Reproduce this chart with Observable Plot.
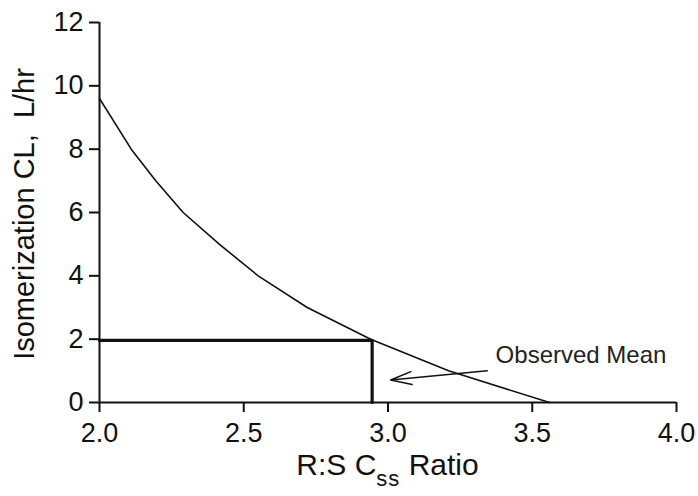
<!DOCTYPE html>
<html>
<head>
<meta charset="utf-8">
<script src="https://cdn.jsdelivr.net/npm/d3@7"></script>
<script src="https://cdn.jsdelivr.net/npm/@observablehq/plot@0.6"></script>
<style>
  html, body { margin: 0; padding: 0; background: #fff; }
  #chart { width: 698px; height: 496px; }
</style>
</head>
<body>
<div id="chart"></div>
<script>
// Curve: isomerization clearance vs R:S Css ratio
const curveRatio = [2.0, 2.11, 2.195, 2.29, 2.415, 2.55, 2.72, 2.94, 3.21, 3.56];
const curveCL    = [9.6, 8.0, 7.0, 6.0, 5.0, 4.0, 3.0, 2.0, 1.0, 0.0];

// Observed mean guide lines
const meanRatio = [2.0, 2.945, 2.945];
const meanCL    = [1.96, 1.96, 0.0];

// Annotation
const noteText  = ["Observed Mean"];
const noteX     = [3.373];
const noteY     = [1.25];
const arrowFromX = [3.344];
const arrowFromY = [1.0];
const arrowToX   = [3.009];
const arrowToY   = [0.71];

// Ticks
const xTicks = [2.0, 2.5, 3.0, 3.5, 4.0];
const yTicks = [0, 2, 4, 6, 8, 10, 12];

const xLabelMain = "R:S C";
const xLabelSub  = "ss";
const xLabelTail = " Ratio";
const yLabel     = "Isomerization CL,\u00a0 L/hr";

const FONT = "'Liberation Sans', Arial, Helvetica, sans-serif";
const INK = "#111";

const curve = curveRatio.map((x, i) => ({x, y: curveCL[i]}));
const mean  = meanRatio.map((x, i) => ({x, y: meanCL[i]}));

const plot = Plot.plot({
  width: 698,
  height: 496,
  marginLeft: 99,
  marginRight: 22,
  marginTop: 22,
  marginBottom: 94,
  style: { fontFamily: FONT, color: INK, background: "#fff", overflow: "visible" },
  x: { domain: [2, 4] },
  y: { domain: [0, 12] },
  marks: [
    Plot.axisX({ ticks: xTicks, tickFormat: d3.format(".1f"), tickSize: 10, tickPadding: 10,
                 fontSize: 27, strokeWidth: 2, label: null }),
    Plot.axisY({ ticks: yTicks, tickFormat: d3.format("d"), tickSize: 10, tickPadding: 6,
                 fontSize: 27, strokeWidth: 2, label: null }),
    Plot.ruleY([0], { stroke: INK, strokeWidth: 2 }),
    Plot.ruleX([2], { stroke: INK, strokeWidth: 2 }),
    Plot.line(curve, { x: "x", y: "y", stroke: INK, strokeWidth: 1.6 }),
    Plot.line(mean, { x: "x", y: "y", stroke: INK, strokeWidth: 3.2 }),
    Plot.arrow([0], { x1: arrowFromX, y1: arrowFromY, x2: arrowToX, y2: arrowToY,
                      stroke: INK, strokeWidth: 1.5, headLength: 22, headAngle: 34 }),
    Plot.text(noteText, { x: noteX, y: noteY, text: d => d, textAnchor: "start",
                          lineAnchor: "bottom", fontSize: 24, fill: "#222" })
  ]
});

document.getElementById("chart").appendChild(plot);

// Axis titles (x label has a subscript)
const sx = plot.scale("x"), sy = plot.scale("y");
const svg = d3.select(plot);

const xt = svg.append("text")
  .attr("x", sx.apply(3.0))
  .attr("y", 475)
  .attr("text-anchor", "middle")
  .attr("font-family", FONT)
  .attr("font-size", 30)
  .attr("fill", INK);
xt.append("tspan").text(xLabelMain);
xt.append("tspan").attr("font-size", 22).attr("dy", "0.5em").attr("letter-spacing", 1).text(xLabelSub);
xt.append("tspan").attr("dy", "-0.37em").text(xLabelTail);

svg.append("text")
  .attr("transform", `translate(34,${(sy.apply(0) + sy.apply(12)) / 2 + 2}) rotate(-90)`)
  .attr("text-anchor", "middle")
  .attr("font-family", FONT)
  .attr("font-size", 29)
  .attr("fill", INK)
  .text(yLabel);
</script>
</body>
</html>
